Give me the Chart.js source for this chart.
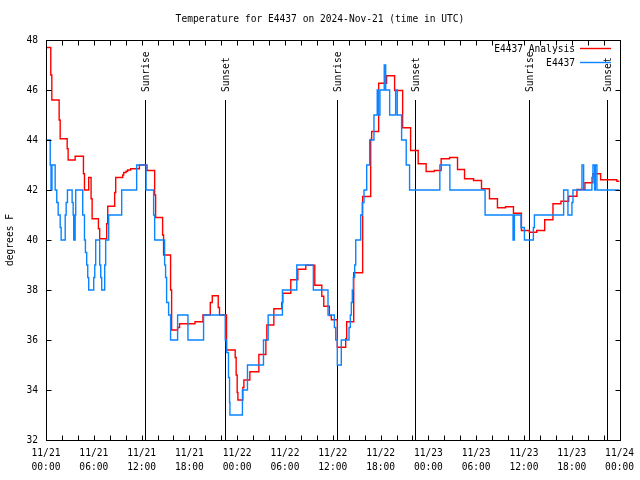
<!DOCTYPE html>
<html>
<head>
<meta charset="utf-8">
<script src="https://cdn.jsdelivr.net/npm/chart.js@4/dist/chart.umd.min.js"></script>
<style>
  html, body { margin: 0; padding: 0; background: #fff; }
  #wrap { width: 640px; height: 480px; }
</style>
</head>
<body>
<div id="wrap"><canvas id="chart" width="640" height="480"></canvas></div>
<script>
// hours since 2024-11-21 00:00 UTC
var anaHours = [0, 0.60, 0.73, 1.65, 1.78, 2.66, 2.78, 3.66, 4.70, 4.83, 5.36, 5.66, 5.79, 6.58, 6.74,
  7.62, 7.75, 8.62, 8.75, 9.63, 9.75, 10.05, 10.25, 10.63, 11.72, 12.68, 13.64, 13.76, 14.64, 14.76,
  15.64, 15.77, 16.52, 16.77, 18.70, 19.70, 20.62, 20.87, 21.62, 21.78, 22.66, 23.75, 23.87, 24.00,
  24.09, 24.71, 24.84, 25.59, 26.72, 27.60, 27.72, 28.60, 29.60, 29.73, 30.73, 31.61, 32.61, 33.74,
  34.62, 34.87, 35.57, 35.82, 36.57, 37.62, 37.75, 38.63, 39.75, 40.76, 40.88, 41.76, 42.76, 43.76,
  44.77, 45.77, 46.72, 47.72, 48.73, 49.60, 50.66, 51.66, 52.54, 53.67, 54.67, 55.67, 56.67, 57.68,
  58.68, 59.68, 60.68, 61.60, 62.60, 63.64, 64.64, 65.61, 66.65, 67.65, 68.66, 69.62, 71.66, 72];
var anaTemps = [47.7, 46.6, 45.6, 44.8, 44.05, 43.65, 43.2, 43.35, 42.65, 42.0, 42.5, 41.65, 40.85, 40.45, 40.05,
  40.65, 41.35, 41.9, 42.5, 42.6, 42.7, 42.75, 42.8, 42.85, 43.0, 42.78, 41.8, 40.9, 40.2, 39.4,
  38.0, 36.4, 36.5, 36.65, 36.73, 37.0, 37.5, 37.77, 37.3, 37.0, 35.6, 35.3, 34.6, 33.9,
  33.6, 34.1, 34.4, 34.73, 35.42, 36.0, 36.6, 37.25, 37.5, 37.87, 38.41, 38.83, 38.99, 38.19,
  37.75, 37.35, 36.98, 36.81, 35.71, 36.05, 36.73, 38.69, 41.74, 44.02, 44.34, 46.27, 46.57, 45.98,
  44.49, 43.58, 43.05, 42.74, 42.78, 43.25, 43.3, 42.82, 42.45, 42.38, 42.05, 41.65, 41.29, 41.33,
  41.07, 40.38, 40.31, 40.38, 40.81, 41.45, 41.55, 41.75, 42.02, 42.29, 42.65, 42.41, 42.35, 42.35];

var obsHours = [0, 0.53, 0.63, 0.75, 1.15, 1.35, 1.53, 1.78, 1.90, 2.41, 2.53, 2.69, 3.28, 3.41, 3.48,
  3.66, 3.73, 4.61, 4.83, 4.95, 5.11, 5.24, 5.36, 5.99, 6.12, 6.24, 6.74, 6.87, 6.99, 7.37, 7.49,
  7.87, 9.50, 11.38, 12.56, 13.51, 13.64, 14.89, 15.01, 15.14, 15.39, 15.64, 16.52, 17.82, 19.78,
  22.50, 22.66, 22.91, 23.04, 23.09, 24.66, 25.29, 27.30, 27.89, 29.68, 31.48, 33.56, 35.40, 36.20,
  36.37, 36.57, 37.07, 38.04, 38.20, 38.33, 38.45, 38.58, 38.75, 38.88, 39.50, 39.70, 39.92, 40.26,
  40.63, 41.17, 41.58, 41.71, 41.92, 42.46, 42.64, 43.14, 43.89, 44.09, 44.64, 45.22, 45.64, 49.44,
  50.70, 55.12, 58.63, 58.80, 59.63, 60.06, 61.18, 61.31, 64.98, 65.52, 66.02, 66.15, 67.28, 67.49,
  68.53, 68.66, 68.87, 68.96, 69.16, 72];
var obsTemps = [44, 43, 42, 43, 42, 41.5, 41, 40.5, 40, 41, 41.5, 42, 41.5, 41, 40,
  41, 42, 41, 40, 39.5, 39, 38.5, 38, 38.5, 39, 40, 39, 38.5, 38, 39, 40,
  41, 42, 43, 42, 41, 40, 39, 38.5, 37.5, 37, 36, 37, 36, 37,
  36, 35.5, 34.5, 33.5, 33, 34, 35, 36, 37, 38, 39, 38, 37, 36.5,
  36, 35, 36, 36.5, 37, 37.5, 38, 38.5, 39, 40, 41, 41.5, 42, 43,
  44, 45, 46, 45, 46, 47, 46, 45, 46, 45, 44, 43, 42, 43,
  42, 41, 40, 41, 40.5, 40, 40.5, 41, 42, 41, 41.5, 42, 43, 42,
  42.5, 43, 42, 43, 42, 42];

var sunHours = [12.47, 22.41, 36.57, 46.35, 60.63, 70.41];
var sunLabels = ['Sunrise', 'Sunset', 'Sunrise', 'Sunset', 'Sunrise', 'Sunset'];
var startDay = 21;

var FONT = '9.6px "DejaVu Sans Mono", monospace';

function pts(xs, ys) {
  return xs.map((x, i) => ({ x: x, y: ys[i] }));
}

function fmtTick(v) {
  const day = startDay + Math.floor(v / 24);
  const hr = v % 24;
  return ['11/' + day, (hr < 10 ? '0' : '') + hr + ':00'];
}

const framePlugin = {
  id: 'frame',
  beforeDatasetsDraw(chart) {
    const ctx = chart.ctx;
    const a = chart.chartArea;
    const xs = chart.scales.x;
    ctx.save();
    ctx.strokeStyle = '#000';
    ctx.lineWidth = 1;
    ctx.fillStyle = '#000';
    ctx.font = FONT;
    sunHours.forEach((h, i) => {
      const px = Math.round(xs.getPixelForValue(h)) + 0.5;
      ctx.beginPath();
      ctx.moveTo(px, 100);
      ctx.lineTo(px, a.bottom);
      ctx.stroke();
      ctx.save();
      ctx.translate(px + 1, 92);
      ctx.rotate(-Math.PI / 2);
      ctx.textAlign = 'left';
      ctx.textBaseline = 'middle';
      ctx.fillText(sunLabels[i], 0, 0);
      ctx.restore();
    });
    ctx.restore();
  },
  afterDatasetsDraw(chart) {
    const ctx = chart.ctx;
    const a = chart.chartArea;
    const xs = chart.scales.x, ys = chart.scales.y;
    const L = Math.round(a.left) + 0.5, R = Math.round(a.right) + 0.5;
    const T = Math.round(a.top) + 0.5, B = Math.round(a.bottom) + 0.5;
    ctx.save();
    ctx.strokeStyle = '#000';
    ctx.lineWidth = 1;
    ctx.beginPath();
    for (let h = 0; h <= 72; h += 2) {
      const px = Math.round(xs.getPixelForValue(h)) + 0.5;
      ctx.moveTo(px, B); ctx.lineTo(px, B - 5);
      ctx.moveTo(px, T); ctx.lineTo(px, T + 5);
    }
    for (let v = 32; v <= 48; v += 2) {
      const py = Math.round(ys.getPixelForValue(v)) + 0.5;
      ctx.moveTo(L, py); ctx.lineTo(L + 5, py);
      ctx.moveTo(R, py); ctx.lineTo(R - 5, py);
    }
    ctx.stroke();
    ctx.strokeRect(L, T, R - L, B - T);

    // legend
    ctx.font = FONT;
    ctx.fillStyle = '#000';
    ctx.textAlign = 'right';
    ctx.textBaseline = 'middle';
    const items = [['E4437 Analysis', '#ff0000', 48], ['E4437', '#0a84ff', 62]];
    items.forEach(it => {
      ctx.fillText(it[0], 575, it[2] + 1.5);
      ctx.strokeStyle = it[1];
      ctx.lineWidth = 1.4;
      ctx.beginPath();
      ctx.moveTo(580, it[2] + 0.5);
      ctx.lineTo(611, it[2] + 0.5);
      ctx.stroke();
    });

    // title and y title
    ctx.textAlign = 'center';
    ctx.fillText('Temperature for E4437 on 2024-Nov-21 (time in UTC)', 320, 19);
    ctx.save();
    ctx.translate(10, 240);
    ctx.rotate(-Math.PI / 2);
    ctx.fillText('degrees F', 0, 0);
    ctx.restore();
    ctx.restore();
  }
};

new Chart(document.getElementById('chart'), {
  type: 'line',
  data: {
    datasets: [
      {
        label: 'E4437',
        data: pts(obsHours, obsTemps),
        borderColor: '#0a84ff',
        borderWidth: 1.4,
        pointRadius: 0,
        stepped: true,
        fill: false
      },
      {
        label: 'E4437 Analysis',
        data: pts(anaHours, anaTemps),
        borderColor: '#ff0000',
        borderWidth: 1.4,
        pointRadius: 0,
        stepped: true,
        fill: false
      }
    ]
  },
  options: {
    responsive: false,
    animation: false,
    events: [],
    layout: { padding: { top: 40, right: 19, left: 0, bottom: 0 } },
    plugins: {
      legend: { display: false },
      tooltip: { enabled: false },
      title: { display: false }
    },
    scales: {
      x: {
        type: 'linear',
        min: 0,
        max: 72,
        grid: { display: false, drawTicks: false },
        border: { display: false },
        afterFit: s => { s.height = 40; },
        ticks: {
          stepSize: 6,
          autoSkip: false,
          maxRotation: 0,
          padding: 6,
          color: '#000',
          font: { family: '"DejaVu Sans Mono", monospace', size: 9.6, lineHeight: 1.5 },
          callback: v => fmtTick(v)
        }
      },
      y: {
        min: 32,
        max: 48,
        grid: { display: false, drawTicks: false },
        border: { display: false },
        afterFit: s => { s.width = 46; },
        ticks: {
          stepSize: 2,
          padding: 8,
          color: '#000',
          font: { family: '"DejaVu Sans Mono", monospace', size: 9.6 }
        }
      }
    }
  },
  plugins: [framePlugin]
});
</script>
</body>
</html>
